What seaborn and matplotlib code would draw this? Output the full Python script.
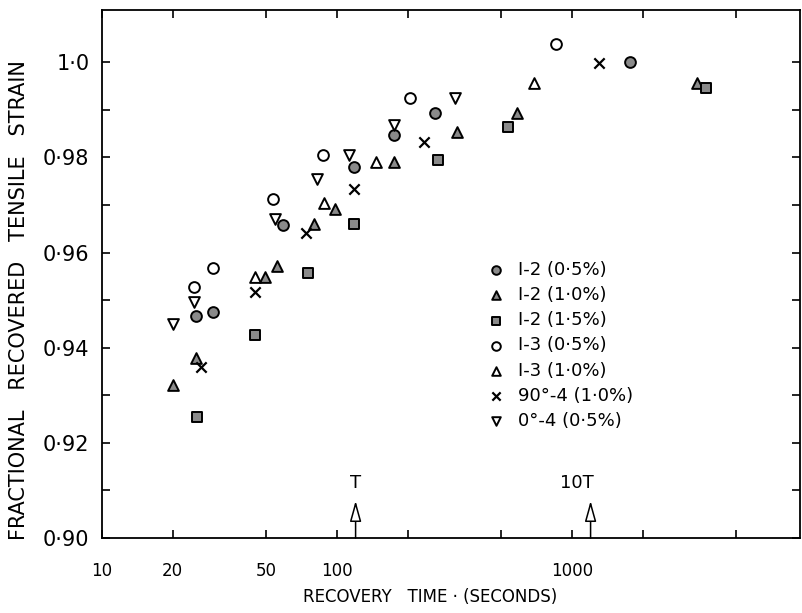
import numpy as np
import pandas as pd
import matplotlib
matplotlib.use("Agg")
import matplotlib.pyplot as plt
from matplotlib.ticker import FixedLocator, NullLocator
import seaborn as sns

# ---------------- data ----------------
series_labels = ["I-2 (0·5%)", "I-2 (1·0%)", "I-2 (1·5%)", "I-3 (0·5%)",
                 "I-3 (1·0%)", "90°-4 (1·0%)", "0°-4 (0·5%)"]

i2_05_t = [25.1, 29.7, 58.9, 118, 175, 261, 1766]
i2_05_v = [0.9466, 0.9475, 0.9658, 0.9779, 0.9847, 0.9893, 1.000]

i2_10_t = [20.0, 25.1, 49.4, 55.6, 79.8, 98, 175, 324, 583, 3403]
i2_10_v = [0.9321, 0.9378, 0.9548, 0.9571, 0.9660, 0.9691, 0.9790, 0.9853, 0.9893, 0.9956]

i2_15_t = [25.4, 44.8, 75.3, 118, 269, 535, 3717]
i2_15_v = [0.9254, 0.9426, 0.9557, 0.9660, 0.9794, 0.9863, 0.9947]

i3_05_t = [24.6, 29.7, 53.5, 87.1, 205, 855]
i3_05_v = [0.9527, 0.9567, 0.9712, 0.9805, 0.9924, 1.0038]

i3_10_t = [44.8, 88.1, 146.5, 689]
i3_10_v = [0.9548, 0.9704, 0.9790, 0.9956]

d90_10_t = [26.4, 44.8, 73.8, 118, 234, 1303]
d90_10_v = [0.9359, 0.9517, 0.9641, 0.9733, 0.9832, 0.9998]

d0_05_t = [20.0, 24.6, 54.5, 82.2, 112.5, 175, 318]
d0_05_v = [0.9450, 0.9496, 0.9670, 0.9754, 0.9805, 0.9868, 0.9924]

x_ticks = [10, 20, 50, 100, 200, 500, 1000, 2000, 5000]
x_tick_labels = ["10", "20", "50", "100", "", "", "1000", "", ""]
y_major = [0.90, 0.92, 0.94, 0.96, 0.98, 1.00]
y_major_labels = ["0·90", "0·92", "0·94", "0·96", "0·98", "1·0"]
y_minor = [0.91, 0.93, 0.95, 0.97, 0.99]

tau = 120          # T
tau10 = 1200       # 10T

# ---------------- build table ----------------
all_t = [i2_05_t, i2_10_t, i2_15_t, i3_05_t, i3_10_t, d90_10_t, d0_05_t]
all_v = [i2_05_v, i2_10_v, i2_15_v, i3_05_v, i3_10_v, d90_10_v, d0_05_v]
rows = []
for lab, ts, vs in zip(series_labels, all_t, all_v):
    for t, v in zip(ts, vs):
        rows.append({"series": lab, "time": t, "strain": v})
df = pd.DataFrame(rows)

styles = {
    "I-2 (0·5%)": dict(marker="o", fc="#8a8a8a"),
    "I-2 (1·0%)": dict(marker="^", fc="#8a8a8a"),
    "I-2 (1·5%)": dict(marker="s", fc="#8a8a8a"),
    "I-3 (0·5%)": dict(marker="o", fc="white"),
    "I-3 (1·0%)": dict(marker="^", fc="white"),
    "90°-4 (1·0%)": dict(marker="x", fc="black"),
    "0°-4 (0·5%)": dict(marker="v", fc="white"),
}

# ---------------- plot ----------------
sns.set_style("ticks")
plt.rcParams["font.family"] = ["DejaVu Sans"]
plt.rcParams["text.color"] = "black"
plt.rcParams["axes.labelcolor"] = "black"
plt.rcParams["xtick.color"] = "black"
plt.rcParams["ytick.color"] = "black"

fig = plt.figure(figsize=(8.03, 6.13), dpi=100)
ax = fig.add_axes([102 / 803, 1 - 538 / 613, 698 / 803, 528 / 613])

for lab in series_labels:
    sub = df[df["series"] == lab]
    st = styles[lab]
    if st["marker"] == "x":
        sns.scatterplot(data=sub, x="time", y="strain", marker="x", s=55,
                        color="black", linewidth=1.6, label=lab, ax=ax)
    else:
        sns.scatterplot(data=sub, x="time", y="strain", marker=st["marker"], s=60,
                        color=st["fc"], edgecolor="black", linewidth=1.4,
                        label=lab, ax=ax)

ax.set_xscale("log")
ax.set_xlim(10, 9340)
ax.set_ylim(0.90, 1.011)

ax.xaxis.set_major_locator(FixedLocator(x_ticks))
ax.xaxis.set_minor_locator(NullLocator())
ax.set_xticklabels(x_tick_labels)
ax.yaxis.set_major_locator(FixedLocator(y_major))
ax.yaxis.set_minor_locator(FixedLocator(y_minor))
ax.set_yticklabels(y_major_labels)

ax.tick_params(axis="both", which="both", direction="in", top=True, right=True,
               width=1.2, color="black", labelcolor="black")
ax.tick_params(axis="both", which="major", length=6)
ax.tick_params(axis="both", which="minor", length=6)
ax.tick_params(axis="x", which="major", pad=17, labelsize=12)
ax.tick_params(axis="y", which="major", pad=9, labelsize=15)
for sp in ax.spines.values():
    sp.set_linewidth(1.3)
    sp.set_color("black")

ax.set_xlabel("RECOVERY   TIME · (SECONDS)", fontsize=12, color="black")
ax.xaxis.set_label_coords(0.47, -0.094)
ax.set_ylabel("FRACTIONAL   RECOVERED   TENSILE   STRAIN", fontsize=15, color="black")
ax.yaxis.set_label_coords(-0.104, 0.45)

# T and 10T arrows
for t in [tau, tau10]:
    ax.annotate("", xy=(t, 0.9078), xytext=(t, 0.9),
                arrowprops=dict(arrowstyle="-|>,head_length=0.9,head_width=0.25",
                                fc="white", ec="black", lw=1.1,
                                mutation_scale=14, shrinkA=0, shrinkB=0))
ax.text(tau, 0.9115, "T", ha="center", va="center", fontsize=13)
ax.text(1050, 0.9115, "10T", ha="center", va="center", fontsize=13)

leg = ax.legend(loc="upper left", bbox_to_anchor=(0.552, 0.525), frameon=False,
                fontsize=13, borderpad=0, borderaxespad=0, handlelength=1.0,
                handletextpad=0.7, labelspacing=0.4, markerscale=0.8)

fig.savefig("out.png", dpi=100)
